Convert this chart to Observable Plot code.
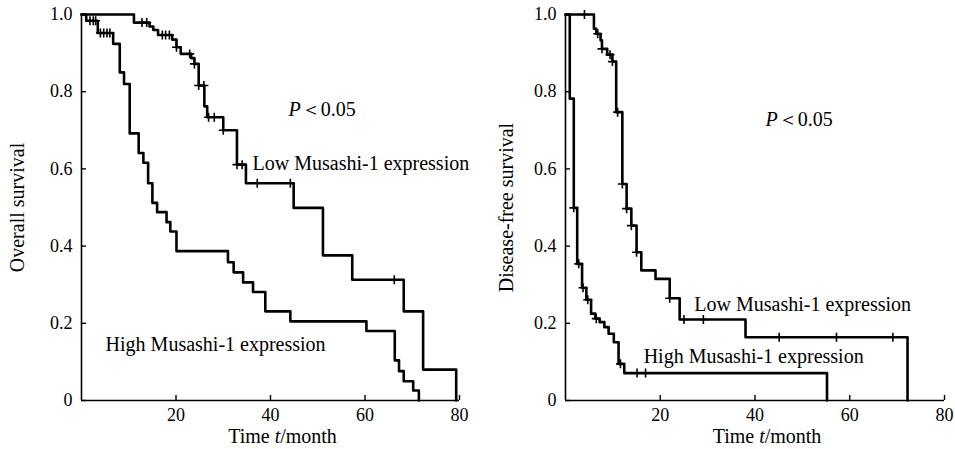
<!DOCTYPE html>
<html><head><meta charset="utf-8">
<script src="https://cdn.jsdelivr.net/npm/d3@7"></script>
<script src="https://cdn.jsdelivr.net/npm/@observablehq/plot@0.6"></script>
<style>
body{margin:0;background:#fff;}
#wrap{display:flex;width:955px;height:449px;overflow:hidden;}
</style></head><body><div id="wrap"></div>
<script>
// ---- data ----
const xTicks = [20, 40, 60, 80];
const yTicks = [0, 0.2, 0.4, 0.6, 0.8, 1.0];
const xLabel = "Time t/month";
const yLabelOS = "Overall survival";
const yLabelDFS = "Disease-free survival";
const groupLabels = ["Low Musashi-1 expression", "High Musashi-1 expression"];
const pLabel = "P\uFF1C0.05";

// Overall survival, low expression
const monthsLowOS = [0, 11.1, 14.4, 15.2, 16.2, 19.2, 20.1, 21.0, 23.2, 23.9, 24.8, 26.0, 26.6, 30.0, 32.9, 34.8, 44.9, 51.1, 57.3, 68.2, 72.3, 79.3];
const survLowOS   = [1, 0.979, 0.969, 0.960, 0.947, 0.935, 0.915, 0.898, 0.887, 0.872, 0.816, 0.762, 0.734, 0.700, 0.611, 0.563, 0.499, 0.376, 0.313, 0.231, 0.080, 0];
const censorLowOS = [12.8, 13.8, 17.1, 17.8, 18.6, 20.1, 22.9, 23.9, 24.8, 25.9, 26.9, 28.1, 30.0, 32.9, 34.0, 37.2, 44.2, 66.2];
// Overall survival, high expression
const monthsHighOS = [0, 1.0, 3.45, 6.7, 8.1, 9.0, 10.2, 12.1, 13.1, 14.1, 15.0, 16.0, 18.0, 18.8, 20.1, 31.0, 32.2, 34.2, 36.3, 38.9, 44.2, 60.3, 66.3, 67.2, 68.2, 70.2, 71.4];
const survHighOS   = [1, 0.984, 0.952, 0.924, 0.850, 0.820, 0.692, 0.641, 0.616, 0.563, 0.512, 0.488, 0.462, 0.438, 0.387, 0.358, 0.332, 0.306, 0.281, 0.231, 0.205, 0.180, 0.104, 0.076, 0.050, 0.026, 0];
const censorHighOS = [1.8, 2.5, 3.0, 4.0, 4.7, 5.4, 6.0];
// Disease-free survival, low expression
const monthsLowDFS = [0, 6.0, 6.5, 7.4, 7.7, 8.8, 9.9, 10.7, 12.0, 12.9, 13.9, 15.0, 16.0, 19.0, 22.0, 24.1, 38.0, 72.2];
const survLowDFS   = [1, 0.963, 0.950, 0.933, 0.911, 0.896, 0.878, 0.747, 0.561, 0.497, 0.453, 0.384, 0.337, 0.315, 0.265, 0.210, 0.164, 0];
const censorLowDFS = [4.0, 6.8, 7.7, 9.4, 9.9, 11.0, 12.0, 12.9, 13.9, 15.0, 22.0, 25.0, 29.1, 45.1, 57.2, 69.1];
// Disease-free survival, high expression
const monthsHighDFS = [0, 0.9, 1.75, 2.47, 3.5, 4.4, 5.4, 6.3, 7.2, 8.2, 9.1, 10.2, 11.2, 12.4, 55.2];
const survHighDFS   = [1, 0.782, 0.499, 0.354, 0.292, 0.261, 0.225, 0.212, 0.203, 0.190, 0.173, 0.151, 0.095, 0.071, 0];
const censorHighDFS = [1.75, 2.8, 3.7, 4.7, 6.5, 11.6, 15.1, 16.9];

// ---- helpers ----
function stepAt(times, surv, t) {
  let v = surv[0];
  for (let i = 0; i < times.length; i++) if (times[i] <= t) v = surv[i];
  return v;
}
const rows = (times, surv) => times.map((t, i) => ({t, s: surv[i]}));
const censorRows = (times, surv, cens) => cens.map(t => ({t, s: stepAt(times, surv, t)}));

const FONT = '"Liberation Serif", "Times New Roman", serif';

function panel(cfg) {
  const curveMarks = [];
  for (const c of cfg.curves) {
    curveMarks.push(Plot.line(rows(c.times, c.surv), {x: "t", y: "s", curve: "step-after", stroke: "#000", strokeWidth: 2.6}));
    curveMarks.push(Plot.dot(censorRows(c.times, c.surv, c.cens), {x: "t", y: "s", symbol: "plus", r: 3, stroke: "#000", strokeWidth: 1.6}));
  }
  const textMarks = cfg.notes.map(n => Plot.text([n], {x: "x", y: "y", text: "text", textAnchor: "start", lineAnchor: "bottom", fontSize: 20, fill: "#000"}));
  const svg = Plot.plot({
    width: cfg.width, height: 449,
    marginLeft: cfg.marginLeft, marginRight: cfg.marginRight, marginTop: 14, marginBottom: 49,
    x: {domain: [0, 80]},
    y: {domain: [0, 1]},
    style: {fontFamily: FONT, fontSize: "18px", color: "#000", background: "#fff", overflow: "visible"},
    marks: [
      Plot.ruleX([0], {stroke: "#000", strokeWidth: 1.6}),
      Plot.ruleY([0], {stroke: "#000", strokeWidth: 1.6}),
      Plot.axisX(xTicks, {tickSize: -5, tickPadding: 13, fontSize: 18, tickFormat: d => String(d), label: null, stroke: "#000", strokeWidth: 1.4}),
      Plot.axisY(yTicks, {tickSize: -5, tickPadding: 14, fontSize: 18, tickFormat: d => d === 0 ? "0" : d.toFixed(1), label: null, stroke: "#000", strokeWidth: 1.4}),
      ...curveMarks,
      ...textMarks,
      Plot.text([cfg.ylabel], {frameAnchor: "left", rotate: -90, dx: cfg.ylabelDx, fontSize: 20, fill: "#000", textAnchor: "middle"}),
      Plot.text([xLabel], {frameAnchor: "bottom", dx: 12, dy: 42, lineAnchor: "bottom", fontSize: 20, fill: "#000"})
    ]
  });
  // italic letters
  d3.select(svg).selectAll("text").filter(function () { return this.textContent === xLabel; }).each(function () {
    const t = d3.select(this); t.text(null);
    t.append("tspan").text("Time ");
    t.append("tspan").attr("font-style", "italic").text("t");
    t.append("tspan").text("/month");
  });
  d3.select(svg).selectAll("text").filter(function () { return this.textContent === pLabel; }).each(function () {
    const t = d3.select(this); t.text(null);
    t.append("tspan").attr("font-style", "italic").text("P");
    t.append("tspan").text(pLabel.slice(1));
  });
  return svg;
}

const left = panel({
  width: 480, marginLeft: 81, marginRight: 21,
  ylabel: yLabelOS, ylabelDx: -64,
  curves: [
    {times: monthsLowOS, surv: survLowOS, cens: censorLowOS},
    {times: monthsHighOS, surv: survHighOS, cens: censorHighOS}
  ],
  notes: [
    {x: 43.8, y: 0.738, text: pLabel},
    {x: 36.2, y: 0.596, text: groupLabels[0]},
    {x: 5.1, y: 0.127, text: groupLabels[1]}
  ]
});
const right = panel({
  width: 475, marginLeft: 85, marginRight: 11,
  ylabel: yLabelDFS, ylabelDx: -59,
  curves: [
    {times: monthsLowDFS, surv: survLowDFS, cens: censorLowDFS},
    {times: monthsHighDFS, surv: survHighDFS, cens: censorHighDFS}
  ],
  notes: [
    {x: 42.2, y: 0.712, text: pLabel},
    {x: 27.2, y: 0.231, text: groupLabels[0]},
    {x: 16.5, y: 0.096, text: groupLabels[1]}
  ]
});
document.getElementById("wrap").append(left, right);
</script>
</body></html>
